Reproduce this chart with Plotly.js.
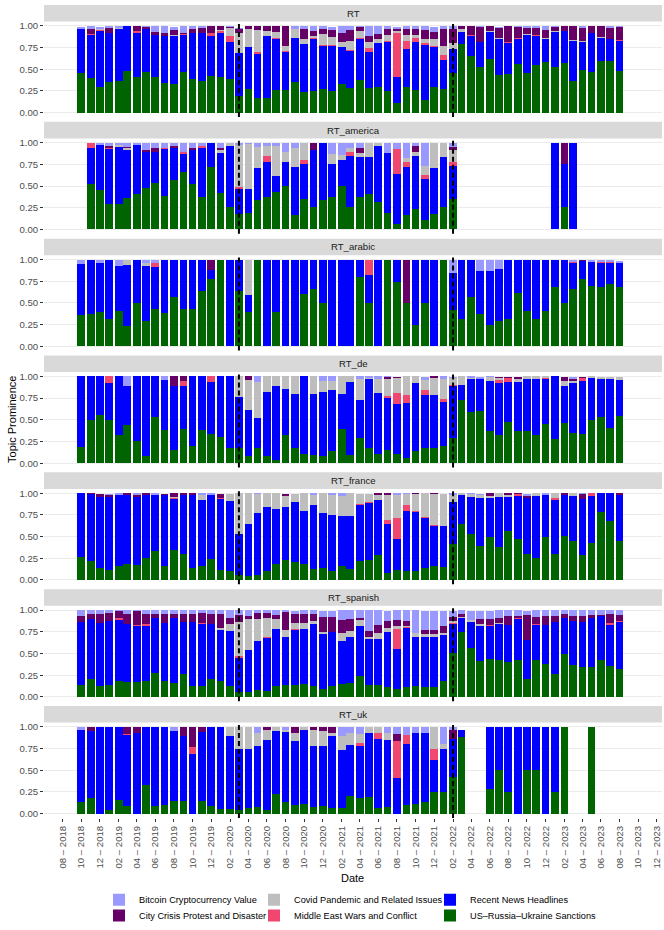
<!DOCTYPE html>
<html>
<head>
<meta charset="utf-8">
<script src="https://cdn.plot.ly/plotly-3.0.1.min.js"></script>
<style>
  body { margin: 0; background: #ffffff; }
  #plot { width: 664px; height: 930px; }
</style>
</head>
<body>
<div id="plot"></div>
<script>
// Topic prominence per month, one panel per RT channel

var months = [
  "2018-10-01", "2018-11-01", "2018-12-01",
  "2019-01-01", "2019-02-01", "2019-03-01", "2019-04-01", "2019-05-01", "2019-06-01",
  "2019-07-01", "2019-08-01", "2019-09-01", "2019-10-01", "2019-11-01", "2019-12-01",
  "2020-01-01", "2020-02-01", "2020-03-01", "2020-04-01", "2020-05-01", "2020-06-01",
  "2020-07-01", "2020-08-01", "2020-09-01", "2020-10-01", "2020-11-01", "2020-12-01",
  "2021-01-01", "2021-02-01", "2021-03-01", "2021-04-01", "2021-05-01", "2021-06-01",
  "2021-07-01", "2021-08-01", "2021-09-01", "2021-10-01", "2021-11-01", "2021-12-01",
  "2022-01-01", "2022-02-01", "2022-03-01", "2022-04-01", "2022-05-01", "2022-06-01",
  "2022-07-01", "2022-08-01", "2022-09-01", "2022-10-01", "2022-11-01", "2022-12-01",
  "2023-01-01", "2023-02-01", "2023-03-01", "2023-04-01", "2023-05-01", "2023-06-01",
  "2023-07-01", "2023-08-01"
];

// axis breaks every two months
var dateTicks = [
  "2018-08-01", "2018-10-01", "2018-12-01", "2019-02-01", "2019-04-01", "2019-06-01",
  "2019-08-01", "2019-10-01", "2019-12-01", "2020-02-01", "2020-04-01", "2020-06-01",
  "2020-08-01", "2020-10-01", "2020-12-01", "2021-02-01", "2021-04-01", "2021-06-01",
  "2021-08-01", "2021-10-01", "2021-12-01", "2022-02-01", "2022-04-01", "2022-06-01",
  "2022-08-01", "2022-10-01", "2022-12-01", "2023-02-01", "2023-04-01", "2023-06-01",
  "2023-08-01", "2023-10-01", "2023-12-01"
];

var events = ["2020-03-01", "2022-02-01"];

// ---- RT ----
var RT_sanctions = [.46,.40,.29,.35,.36,.485,.41,.465,.41,.34,
  .33,.465,.39,.36,.42,.41,.39,.19,.275,.17,
  .17,.26,.26,.355,.235,.25,.275,.25,.325,.285,
  .375,.285,.30,.25,.115,.30,.26,.15,.295,.275,
  .46,.795,.655,.525,.62,.43,.45,.56,.46,.545,
  .58,.525,.57,.37,.49,.465,.59,.60,.485];
var RT_news = [.50,.50,.65,.57,.60,.515,.51,.495,.48,.54,
  .55,.43,.53,.555,.46,.505,.42,.50,.485,.505,
  .715,.59,.435,.51,.555,.60,.495,.515,.43,.42,
  .475,.41,.50,.57,.295,.435,.555,.625,.46,.335,
  .275,.14,.225,.285,.315,.42,.35,.29,.435,.34,
  .27,.41,.37,.46,.325,.45,.275,.25,.345];
var RT_mideast = [0,.01,.01,0,.01,0,.02,0,0,.005,
  .005,.01,0,.005,.04,.025,.07,0,0,.02,
  0,.01,.01,0,0,.01,.01,.015,0,.02,
  .015,.05,0,.01,.505,.095,.04,.025,.01,.055,
  0,0,.02,0,0,0,.02,.015,0,.01,
  0,0,0,0,0,0,0,0,.01];
var RT_covid = [.01,0,.01,0,.01,0,0,0,0,0,
  .005,0,0,0,0,.01,.095,.23,.20,.26,
  .06,.075,.06,.095,.055,.02,.13,.095,.06,.10,
  .075,.075,.05,.065,.025,.06,.04,.045,.085,.105,
  .065,.025,0,.01,.01,.01,0,0,.01,0,
  .01,.01,0,.01,.01,0,.005,0,0];
var RT_crisis = [0,.06,0,.06,0,0,.055,.03,.045,.03,
  .06,.01,.05,.06,.08,.05,.01,.045,.04,.045,
  .055,.065,.235,.01,.115,.06,.06,.075,.10,.125,
  .05,.06,.055,.065,.02,.07,.065,.105,.085,.20,
  .17,.04,.10,.17,.05,.12,.18,.125,.075,.08,
  .095,.045,.055,.155,.15,.085,.125,.13,.15];
var RT_bitcoin = [.02,.03,.03,.015,.015,0,0,.005,.06,.08,
  .04,.08,.03,.015,0,0,.01,.01,0,0,
  0,0,0,.03,.04,.055,.03,.04,.08,.045,
  .01,.12,.09,.04,.03,.04,.04,.045,.055,.025,
  .025,0,0,.01,.005,.01,0,.01,.02,.02,
  .04,.01,0,.005,.025,0,.005,.02,.01];

// ---- RT_america ----
var AM_sanctions = [null,
  .52,.45,.295,.295,.36,.41,.475,.54,.39,
  .57,.665,.525,.37,.725,.42,.255,.18,.195,.335,
  .37,.435,.50,.17,.35,.255,.335,.37,.50,.255,
  .37,.41,.315,.195,.065,.17,.235,.105,.18,.255,
  .35,null,null,null,null,null,null,null,null,null,
  null,0,.255,0,null,null,null,null,null];
var AM_news = [null,
  .425,.52,.63,.66,.555,.56,.415,.35,.535,
  .375,.20,.39,.565,.275,.465,.71,.285,.27,.375,
  .405,.185,.275,.555,.40,.66,.665,.38,.30,.595,
  .46,.42,.645,.69,.57,.555,.615,.475,.525,.575,
  .38,null,null,null,null,null,null,null,null,null,
  null,1,.495,1,null,null,null,null,null];
var AM_mideast = [null,
  .05,0,.015,0,0,0,0,0,.015,
  0,.03,.005,.03,0,0,0,.03,0,0,
  .075,0,0,0,.05,0,0,0,0,.045,
  0,0,0,0,.29,.05,0,.05,0,0,
  .05,null,null,null,null,null,null,null,null,null,
  null,0,0,0,null,null,null,null,null];
var AM_covid = [null,
  0,0,0,.02,.02,0,0,0,0,
  0,0,0,0,0,.03,.035,.48,.515,.24,
  .11,.34,.115,.21,.20,0,0,.125,.06,.045,
  .05,.17,.04,0,0,.045,.04,.10,.295,.17,
  .135,null,null,null,null,null,null,null,null,null,
  null,0,0,0,null,null,null,null,null];
var AM_crisis = [null,
  0,0,.02,0,.02,0,.025,.045,0,
  .015,0,.015,0,0,.025,0,0,0,0,
  0,0,0,0,0,.085,0,0,0,0,
  .06,0,0,0,0,0,.07,0,0,0,
  .04,null,null,null,null,null,null,null,null,null,
  null,0,.25,0,null,null,null,null,null];
var AM_bitcoin = [null,
  .005,.025,.04,.025,.045,.03,.085,.065,.06,
  .04,.105,.065,.035,0,.06,0,.025,.02,.045,
  .04,.04,.11,.065,0,0,0,.125,.14,.06,
  .06,0,0,.115,.075,.18,.04,.27,0,0,
  .045,null,null,null,null,null,null,null,null,null,
  null,0,0,0,null,null,null,null,null];

// ---- RT_arabic ----
var AR_sanctions = [.36,.37,.39,.31,.41,.235,.495,.295,.43,.38,
  .57,.425,.435,.64,.775,1,0,.635,.39,1,
  0,.39,0,0,.60,.665,.495,0,0,0,
  .795,.495,0,1,.745,.495,.245,.495,0,1,
  .42,.32,.57,.37,.245,.295,.32,.615,.41,.32,
  .405,.685,.495,.665,.78,.695,.685,.715,.68];
var AR_news = [.585,.63,.565,.69,.515,.705,.505,.63,.48,.62,
  .43,.575,.565,.36,.11,0,1,.365,.20,0,
  1,.61,1,1,.40,.335,.505,1,1,1,
  .205,.325,1,0,.255,0,.755,.505,1,0,
  .425,.68,.43,.495,.62,.60,.68,.385,.59,.68,
  .595,.315,.505,.30,.20,.275,.28,.25,.285];
var AR_mideast = [0,0,0,0,0,0,0,0,.045,0,
  0,0,0,0,0,0,0,0,0,0,
  0,0,0,0,0,0,0,0,0,0,
  0,.18,0,0,0,0,0,0,0,0,
  0,0,0,0,0,0,0,0,0,0,
  0,0,0,.01,.005,.005,.005,.005,0];
var AR_covid = [0,0,0,0,0,.06,0,.03,0,0,
  0,0,0,0,0,0,0,0,.41,0,
  0,0,0,0,0,0,0,0,0,0,
  0,0,0,0,0,0,0,0,0,0,
  0,0,0,0,0,0,0,0,0,0,
  0,0,0,0,0,0,0,0,0];
var AR_crisis = [0,0,0,0,0,0,0,0,0,0,
  0,0,0,0,.115,0,0,0,0,0,
  0,0,0,0,0,0,0,0,0,0,
  0,0,0,0,0,.505,0,0,0,0,
  0,0,0,0,0,0,0,0,0,0,
  0,0,0,0,.01,0,0,0,0];
var AR_bitcoin = [.055,0,.045,0,.075,0,0,.045,.045,0,
  0,0,0,0,0,0,0,0,0,0,
  0,0,0,0,0,0,0,0,0,0,
  0,0,0,0,0,0,0,0,0,0,
  .155,0,0,.135,.135,.105,0,0,0,0,
  0,0,0,.02,0,.015,.02,.02,.015];

// ---- RT_de ----
var DE_sanctions = [.19,.495,.56,.495,.33,.435,.255,.08,.53,.38,
  .15,.39,.195,.38,.34,.30,.18,.18,.08,.17,
  .08,.04,.33,.18,.11,.09,.08,.14,.39,.09,
  .285,.17,.11,.15,.11,.06,.14,.18,.17,.195,
  .29,.73,.59,.60,.37,.33,.475,.37,.37,.33,
  .455,.275,.465,.35,.34,.495,.53,.40,.54];
var DE_news = [.81,.505,.44,.43,.67,.45,.745,.92,.47,.575,
  .74,.505,.805,.62,.60,.70,.82,.58,.53,.35,
  .74,.855,.53,.62,.89,.705,.74,.705,.405,.85,
  .445,.795,.70,.60,.575,.635,.785,.61,.62,.51,
  .605,.175,.375,.37,.575,.595,.465,.57,.595,.64,
  .52,.725,.43,.575,.605,.49,.435,.575,.42];
var DE_mideast = [0,0,0,.075,0,0,0,0,0,0,
  0,.05,0,0,.06,0,0,0,0,0,
  0,0,0,0,0,0,0,0,0,0,
  0,0,0,.025,.12,.09,0,.05,0,.04,
  .01,0,0,0,.005,.035,.04,0,0,0,
  .01,0,0,0,.035,0,0,0,0];
var DE_covid = [0,0,0,0,0,0,0,0,0,0,
  0,0,0,0,0,0,0,.24,.345,.415,
  .18,.105,.14,.20,0,.205,.13,.105,.205,.06,
  .24,.02,.165,.20,.175,.215,.075,.12,.195,.22,
  .075,.095,.02,0,.04,.02,0,.03,.035,.03,
  .015,0,.055,.02,0,.015,.03,.02,.035];
var DE_crisis = [0,0,0,0,0,0,0,0,0,0,
  .11,.055,0,0,0,0,0,0,.045,0,
  0,0,0,0,0,0,0,0,0,0,
  0,0,0,.015,.015,0,0,0,.015,.01,
  0,0,0,0,0,.015,.015,.025,0,0,
  0,0,.045,.03,.015,0,0,0,0];
var DE_bitcoin = [0,0,0,0,0,.115,0,0,0,.045,
  0,0,0,0,0,0,0,0,0,.065,
  0,0,0,0,0,0,.05,.05,0,0,
  .03,.015,.025,.01,0,0,0,.035,0,.025,
  .015,0,.015,.025,.015,0,0,0,0,0,
  0,0,0,.015,0,0,0,0,0];

// ---- RT_france ----
var FR_sanctions = [.265,.22,.14,.12,.16,.18,.17,.255,.33,.16,
  .35,.305,.135,.16,.245,.12,.105,.055,.045,.055,
  .105,.185,.23,.21,.185,.13,.14,.105,.16,.13,
  .22,.235,.285,.075,.12,.105,.105,.14,.16,.15,
  .41,.645,.525,.395,.49,.38,.57,.475,.295,.255,
  .49,.305,.505,.445,.285,.425,.78,.675,.445];
var FR_news = [.735,.77,.82,.84,.815,.795,.785,.72,.645,.815,
  .58,.67,.84,.765,.73,.815,.80,.475,.60,.715,
  .735,.63,.615,.685,.615,.73,.63,.64,.575,.605,
  .645,.65,.64,.575,.355,.695,.675,.575,.465,.475,
  .485,.33,.43,.555,.46,.58,.385,.495,.655,.715,
  .485,.62,.47,.525,.65,.545,.22,.325,.53];
var FR_mideast = [0,0,0,0,0,0,0,0,0,0,
  .01,0,0,0,0,.01,0,0,0,0,
  0,0,0,0,0,0,0,0,0,0,
  .01,.01,0,.045,.235,.06,.02,.01,.01,0,
  0,0,0,0,0,0,0,.02,0,0,
  0,.025,0,0,0,.03,0,0,0];
var FR_covid = [0,0,0,0,0,0,0,0,0,0,
  .02,0,0,.05,0,0,.09,.47,.355,.22,
  .16,.185,.125,.10,.20,.12,.23,.235,.235,.265,
  .12,.10,.055,.28,.275,.135,.195,.275,.355,.37,
  .09,.025,.035,.035,.02,.04,.02,0,0,.03,
  0,.05,0,.03,0,0,0,0,0];
var FR_crisis = [0,.01,.03,.015,0,.025,.025,.025,0,.02,
  .04,.025,.025,0,0,.05,0,0,0,0,
  0,0,.025,0,0,0,0,0,0,0,
  0,0,.02,.025,0,0,.01,0,.01,0,
  0,0,0,0,.03,0,.025,.01,.02,0,
  0,0,.025,0,.055,0,0,0,.025];
var FR_bitcoin = [0,0,0,.015,.025,0,.02,0,.025,0,
  0,0,0,.025,.025,0,0,0,0,.01,
  0,0,0,0,0,.02,0,.02,.03,0,
  0,0,0,0,.015,.005,0,0,0,0,
  .02,0,.01,.01,0,0,0,0,.025,0,
  .025,0,0,0,.01,0,0,0,0];

// ---- RT_spanish ----
var ES_sanctions = [.14,.20,.12,.135,.185,.17,.17,.18,.275,.18,
  .16,.265,.12,.13,.21,.185,.12,.055,.055,.075,
  .07,.13,.135,.14,.15,.12,.095,.12,.15,.155,
  .235,.14,.14,.115,.085,.115,.13,.115,.11,.185,
  .505,.75,.56,.415,.44,.43,.40,.43,.20,.42,
  .38,.265,.49,.37,.345,.345,.42,.35,.325];
var ES_news = [.72,.695,.735,.745,.70,.675,.65,.635,.63,.675,
  .745,.595,.74,.715,.625,.58,.64,.39,.48,.57,
  .605,.65,.55,.63,.63,.72,.625,.63,.495,.54,
  .585,.53,.53,.635,.465,.675,.555,.57,.585,.53,
  .34,.155,.30,.40,.375,.41,.43,.465,.455,.41,
  .45,.595,.42,.505,.52,.56,.51,.48,.535];
var ES_mideast = [0,0,0,0,.02,0,.01,.02,0,0,
  0,0,0,.01,0,0,0,.02,0,0,
  .01,0,0,.01,0,0,0,0,0,0,
  0,0,0,0,.23,.01,.01,.01,0,0,
  .01,0,0,0,.01,0,0,.01,0,.01,
  0,0,0,0,0,0,0,.02,.015];
var ES_covid = [0,0,0,0,0,0,0,0,0,0,
  0,0,0,0,0,.025,.075,.40,.36,.25,
  .22,.12,.08,.07,.075,.03,.03,0,.095,.065,
  .065,.025,.07,.045,.035,.02,.045,.025,.025,.025,
  .025,.02,.025,.02,0,.015,0,0,0,0,
  0,0,0,0,0,0,0,0,0];
var ES_crisis = [.07,.06,.095,.085,.085,.115,.16,.115,.055,.105,
  .055,.10,.10,.115,.115,.16,.07,.075,.04,.07,
  .065,.04,.21,.10,.10,.08,.17,.17,.145,.135,
  .025,.06,.09,.08,.07,.06,0,.055,.055,.075,
  .04,.025,0,.06,.07,.05,.10,.025,.285,.075,
  .10,.07,.05,.055,.065,.04,.015,.105,.07];
var ES_bitcoin = [.07,.045,.05,.035,.01,.04,.01,.05,.04,.04,
  .04,.04,.04,.03,.05,.05,.095,.06,.065,.035,
  .03,.06,.025,.04,.045,.05,.07,.075,.115,.105,
  .09,.245,.17,.115,.115,.12,.26,.22,.22,.18,
  .075,.05,.11,.10,.10,.095,.07,.07,.055,.085,
  .07,.07,.04,.07,.07,.055,.055,.045,.055];

// ---- RT_uk ----
var UK_sanctions = [.13,.175,0,.04,.155,.09,0,.33,.085,.10,
  .15,.15,0,.15,.085,.055,.055,.045,.06,.075,
  .04,.225,.13,.10,.11,.075,.085,.06,.06,.20,
  .175,.195,.06,.075,0,.10,.11,.14,.245,.245,
  .425,.885,null,null,.28,.50,.25,0,.50,.50,
  0,.25,1,null,null,1,null,null,null];
var UK_news = [.83,.775,1,.96,.845,.815,.93,.67,.915,.90,
  .80,.75,.69,.795,.915,.945,.84,.695,.68,.705,
  .805,.725,.81,.735,.85,.71,.70,.835,.67,.59,
  .605,.735,.805,.78,.41,.70,.82,.79,.375,.495,
  .44,.085,null,null,.72,.50,.75,1,.50,.50,
  1,.75,0,null,null,0,null,null,null];
var UK_mideast = [0,0,0,0,0,.01,0,0,0,0,
  0,0,.08,0,0,0,0,0,0,0,
  0,0,0,0,0,0,0,0,0,0,
  .04,0,.07,0,.43,.105,0,0,.12,0,
  0,0,null,null,0,0,0,0,0,0,
  0,0,0,null,null,0,null,null,null];
var UK_covid = [0,0,0,0,0,0,0,0,0,0,
  0,0,0,0,0,0,.105,.26,.26,.145,
  .115,.05,.02,.095,.04,.185,.165,.03,.17,.14,
  .095,.07,.065,.075,0,0,0,0,.26,.065,
  0,0,null,null,0,0,0,0,0,0,
  0,0,0,null,null,0,null,null,null];
var UK_crisis = [0,.05,0,0,0,.085,.07,0,0,0,
  0,.10,.23,.055,0,0,0,0,0,0,
  .04,0,0,.07,0,.03,.05,.075,0,0,
  0,0,0,0,.075,0,0,0,0,0,
  .10,0,null,null,0,0,0,0,0,0,
  0,0,0,null,null,0,null,null,null];
var UK_bitcoin = [.04,0,0,0,0,0,0,0,0,0,
  .05,0,0,0,0,0,0,0,0,.075,
  0,0,.04,0,0,0,0,0,.10,.07,
  .085,0,0,.07,.085,.095,.07,.07,0,.195,
  .035,0,null,null,0,0,0,0,0,0,
  0,0,0,null,null,0,null,null,null];

// stacking order bottom -> top; each topic gets its own legend slot (col, row)
var topics = [
  {name: "US\u2013Russia\u2013Ukraine Sanctions", color: "#006400", col: 2, row: 1},
  {name: "Recent News Headlines", color: "#0000FF", col: 2, row: 0},
  {name: "Middle East Wars and Conflict", color: "#EF476F", col: 1, row: 1},
  {name: "Covid Pandemic and Related Issues", color: "#BEBEBE", col: 1, row: 0},
  {name: "City Crisis Protest and Disaster", color: "#660066", col: 0, row: 1},
  {name: "Bitcoin Cryptocurrency Value", color: "#9999FF", col: 0, row: 0}
];

var panels = [
  {label: "RT", series: [RT_sanctions, RT_news, RT_mideast, RT_covid, RT_crisis, RT_bitcoin]},
  {label: "RT_america", series: [AM_sanctions, AM_news, AM_mideast, AM_covid, AM_crisis, AM_bitcoin]},
  {label: "RT_arabic", series: [AR_sanctions, AR_news, AR_mideast, AR_covid, AR_crisis, AR_bitcoin]},
  {label: "RT_de", series: [DE_sanctions, DE_news, DE_mideast, DE_covid, DE_crisis, DE_bitcoin]},
  {label: "RT_france", series: [FR_sanctions, FR_news, FR_mideast, FR_covid, FR_crisis, FR_bitcoin]},
  {label: "RT_spanish", series: [ES_sanctions, ES_news, ES_mideast, ES_covid, ES_crisis, ES_bitcoin]},
  {label: "RT_uk", series: [UK_sanctions, UK_news, UK_mideast, UK_covid, UK_crisis, UK_bitcoin]}
];

var H = 930;
var font = "Liberation Sans, Arial, sans-serif";
var firstTop = 21.7, step = 117.6, plotH = 96, stripH = 16.7;
var barWidth = 25.2 * 86400000;
var legendColX = [99, 254, 430];
var legendRowY = [905.5, 921.5];

var data = [];
var layout = {
  width: 664,
  height: H,
  margin: {l: 44, r: 2, t: 0, b: 0},
  paper_bgcolor: "white",
  plot_bgcolor: "white",
  barmode: "stack",
  showlegend: true,
  font: {family: font, size: 10, color: "#000000"},
  shapes: [],
  annotations: []
};

function py(px) { return 1 - px / H; }
function pxX(px) { return (px - 44) / 618; }

var tickText = dateTicks.map(function (d) {
  return d.slice(5, 7) + " \u2013 " + d.slice(0, 4);
});

panels.forEach(function (p, i) {
  var sfx = i === 0 ? "" : String(i + 1);
  var top = firstTop + step * i;
  var last = i === panels.length - 1;

  topics.forEach(function (t, j) {
    var lg = "legend" + (j === 0 ? "" : String(j + 1));
    data.push({
      type: "bar",
      x: months,
      y: p.series[j],
      width: barWidth,
      name: t.name,
      legendgroup: t.name,
      legend: lg,
      showlegend: i === 0,
      marker: {color: t.color, line: {width: 0}},
      xaxis: "x" + sfx,
      yaxis: "y" + sfx,
      hoverinfo: "x+y+name"
    });
  });

  layout["xaxis" + sfx] = {
    type: "date",
    range: ["2018-06-01", "2023-12-18"],
    anchor: "y" + sfx,
    matches: i === 0 ? undefined : "x",
    showgrid: false,
    zeroline: false,
    showline: false,
    showticklabels: last,
    ticks: last ? "outside" : "",
    ticklen: 3,
    tickcolor: "#333333",
    tickmode: "array",
    tickvals: dateTicks,
    ticktext: tickText,
    tickangle: -90,
    ticklabeloverflow: "allow",
    tickfont: {family: font, size: 9.6, color: "#4D4D4D"}
  };
  layout["yaxis" + sfx] = {
    domain: [py(top + plotH), py(top)],
    anchor: "x" + sfx,
    range: [-0.05, 1.05],
    tickvals: [0, 0.25, 0.5, 0.75, 1],
    ticktext: ["0.00", "0.25", "0.50", "0.75", "1.00"],
    ticks: "outside",
    ticklen: 3,
    tickcolor: "#333333",
    showgrid: true,
    gridcolor: "#EBEBEB",
    gridwidth: 1,
    zeroline: false,
    showline: false,
    tickfont: {family: font, size: 9.6, color: "#4D4D4D"}
  };

  // facet strip
  layout.shapes.push({
    type: "rect", xref: "paper", yref: "paper",
    x0: 0, x1: 1, y0: py(top), y1: py(top - stripH),
    fillcolor: "#D9D9D9", line: {width: 0}, layer: "below"
  });
  layout.annotations.push({
    xref: "paper", yref: "paper", x: 0.5, y: py(top - stripH / 2),
    text: p.label, showarrow: false, xanchor: "center", yanchor: "middle",
    font: {family: font, size: 9.6, color: "#1A1A1A"}
  });

  // event markers
  events.forEach(function (d) {
    layout.shapes.push({
      type: "line", xref: "x" + sfx, yref: "y" + sfx + " domain",
      x0: d, x1: d, y0: 0, y1: 1,
      line: {color: "black", width: 2, dash: "5px,3px"}
    });
  });
});

layout.annotations.push({
  xref: "paper", yref: "paper", x: pxX(12.7), y: py(422),
  text: "Topic Prominence", showarrow: false, textangle: -90,
  xanchor: "center", yanchor: "middle",
  font: {family: font, size: 11, color: "#000000"}
});
layout.annotations.push({
  xref: "paper", yref: "paper", x: pxX(352), y: py(884),
  text: "Date", showarrow: false, xanchor: "center", yanchor: "middle",
  font: {family: font, size: 11, color: "#000000"}
});

// one single-entry legend per key, laid out as a 3 x 2 grid
topics.forEach(function (t, j) {
  var key = "legend" + (j === 0 ? "" : String(j + 1));
  layout[key] = {
    orientation: "v",
    xanchor: "left",
    yanchor: "middle",
    x: pxX(legendColX[t.col]),
    y: py(legendRowY[t.row]),
    bgcolor: "rgba(0,0,0,0)",
    borderwidth: 0,
    font: {family: font, size: 9.2, color: "#000000"}
  };
});

Plotly.newPlot("plot", data, layout, {displayModeBar: false, staticPlot: true});
</script>
</body>
</html>
